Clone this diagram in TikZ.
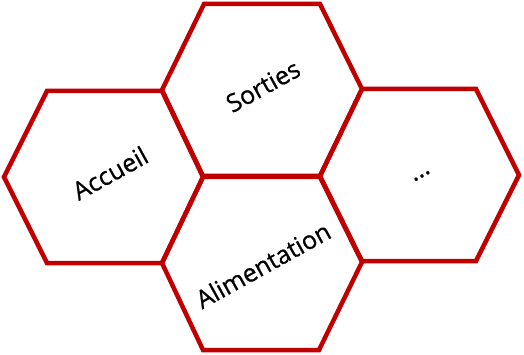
\documentclass[tikz,border=0pt]{standalone}
\usepackage{fontspec}
\setmainfont{Open Sans}
\newfontfamily\hexfont[FakeBold=0.7]{Open Sans}
\definecolor{hexred}{HTML}{C00000}
\tikzset{
  hexline/.style={draw=hexred, line width=4.5pt, line join=miter},
  hexlabel/.style={font=\hexfont\fontsize{25}{29}\selectfont, text=black, rotate=29, inner sep=0pt}
}
\begin{document}
\begin{tikzpicture}[x=1pt,y=-1pt]
\useasboundingbox (0,0) rectangle (524,355);
% Accueil
\draw[hexline] (4,177) -- (47,91) -- (162,91) -- (203,177) -- (162,263) -- (47,263) -- cycle;
% Sorties
\draw[hexline] (162,90) -- (204,4) -- (320,4) -- (362,89) -- (320,176) -- (203,176) -- cycle;
% Alimentation
\draw[hexline] (162,263) -- (203,177) -- (320,177) -- (362,262) -- (319,350) -- (203,350) -- cycle;
% ...
\draw[hexline] (320,176) -- (362,89) -- (476,89) -- (519,175) -- (476,261) -- (362,261) -- cycle;
\node[hexlabel] (accueil) at (110,173) {Accueil};
\node[hexlabel] (sorties) at (263,86) {Sorties};
\node[hexlabel] (alim) at (263,265) {Alimentation};
\node[hexlabel] (dots) at (422,176) {...};
\end{tikzpicture}
\end{document}
